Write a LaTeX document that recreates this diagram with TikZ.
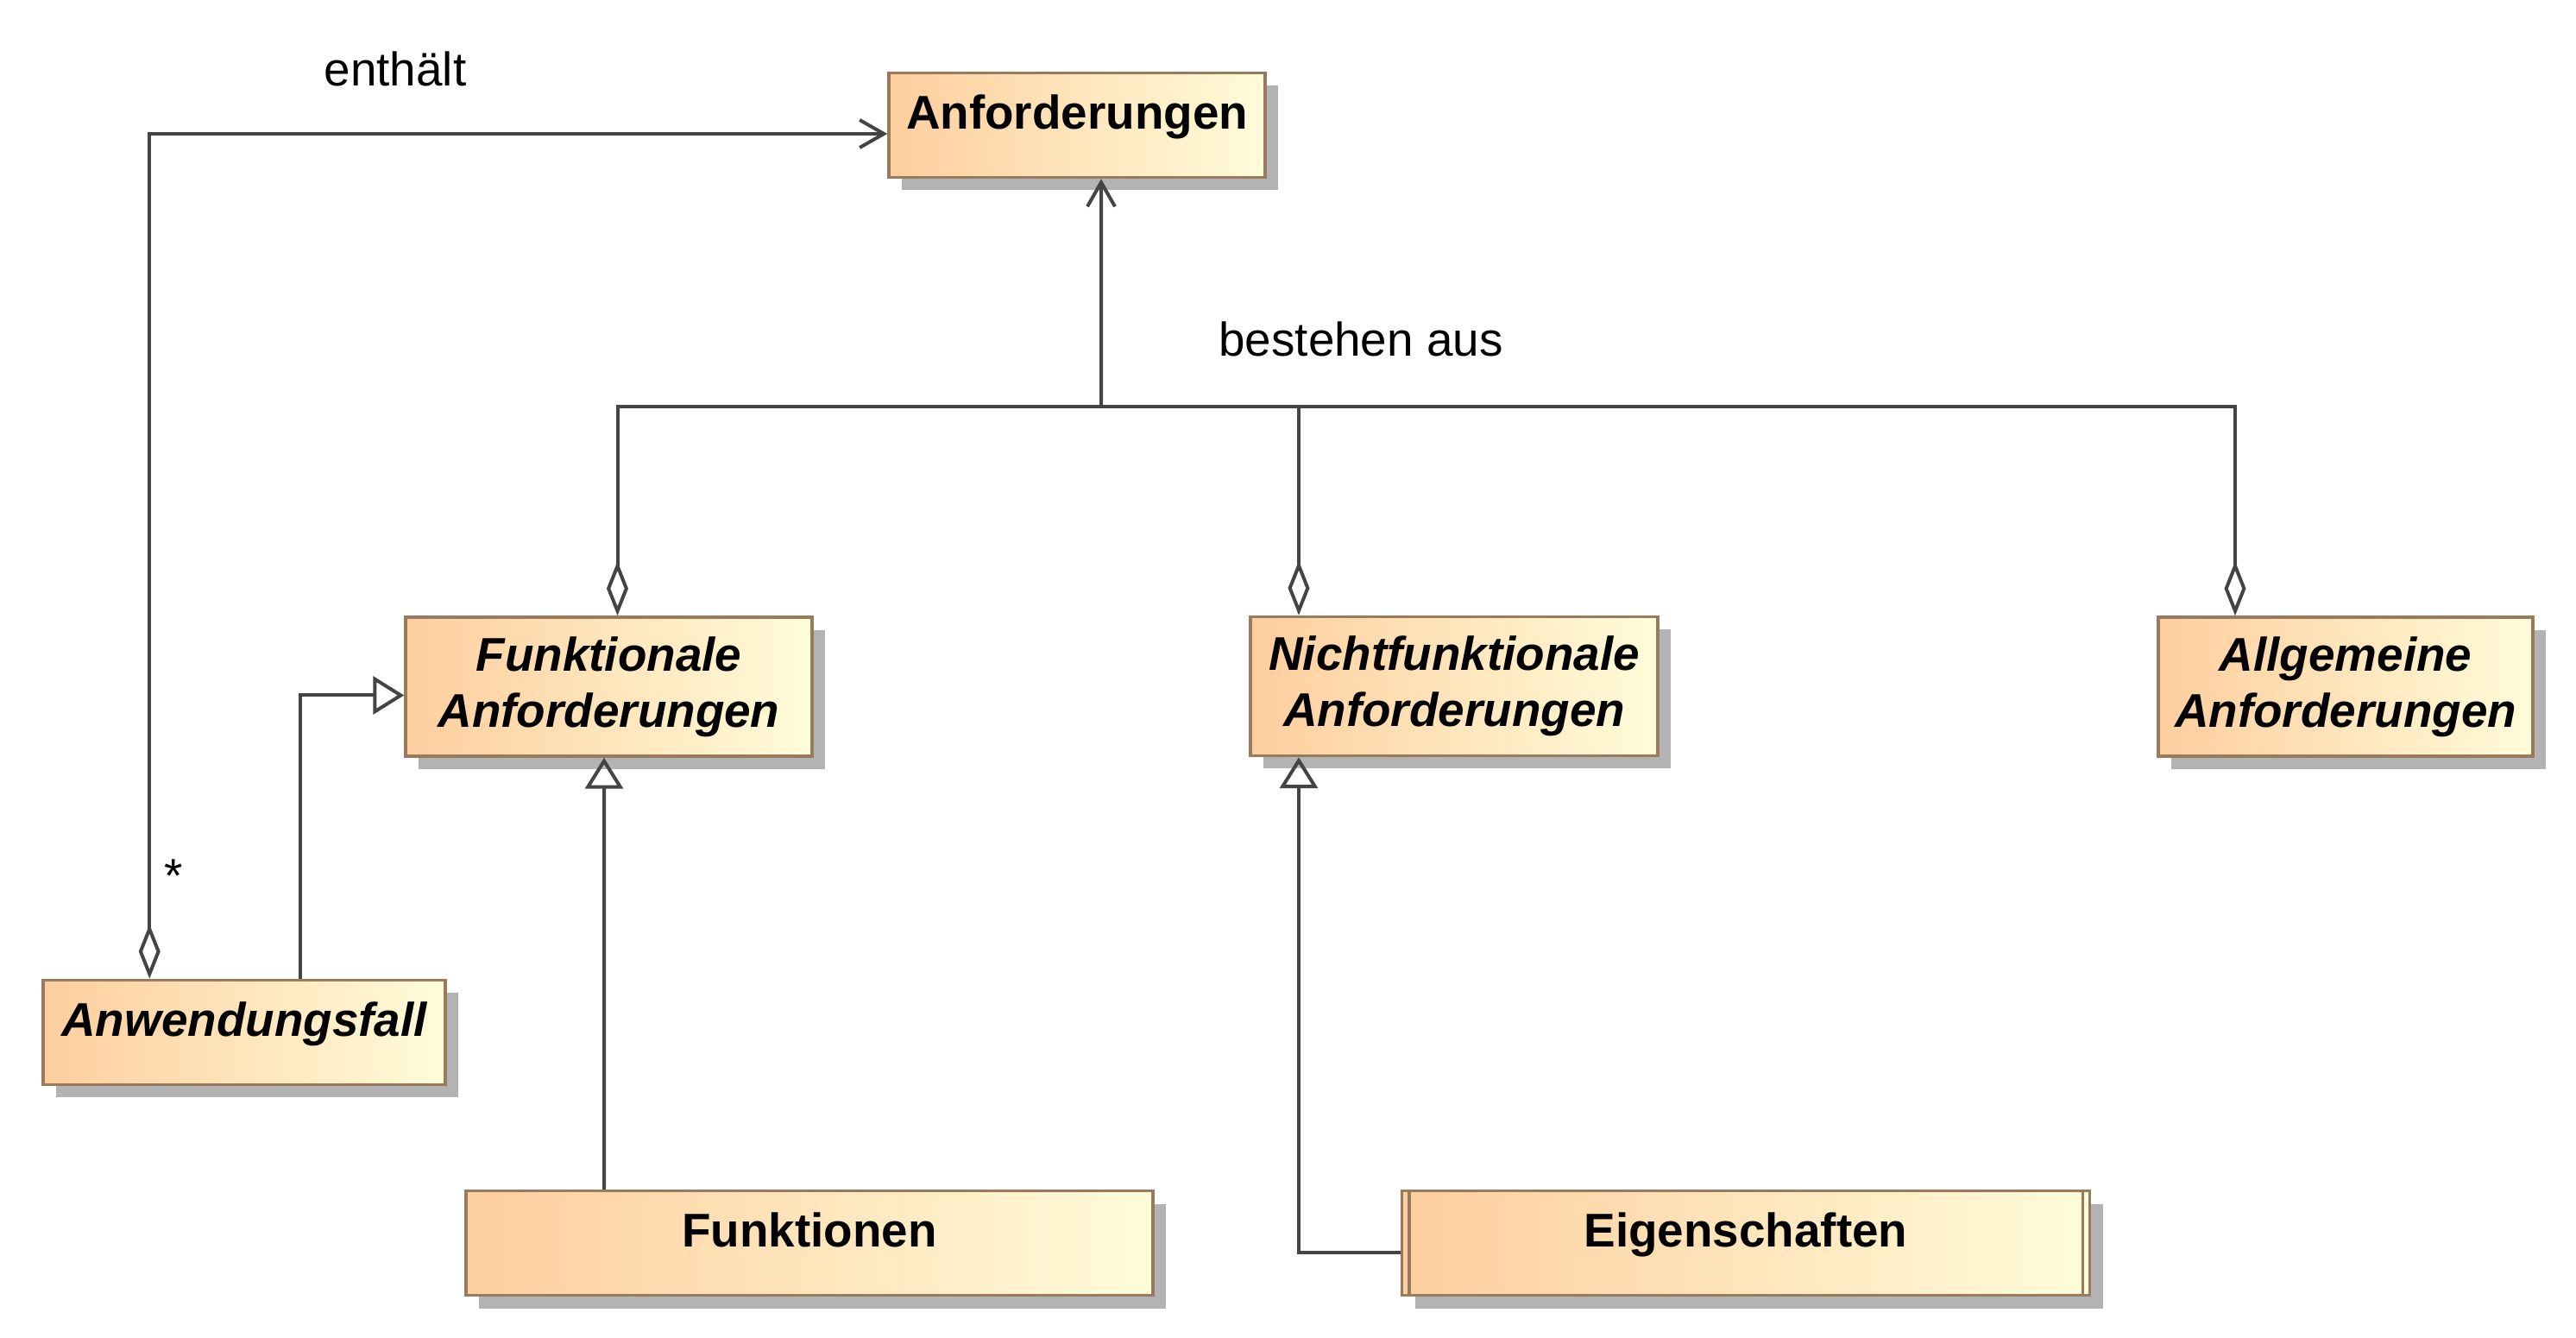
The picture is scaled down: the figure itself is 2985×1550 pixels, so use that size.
\documentclass[tikz,border=0pt]{standalone}
\usepackage{fontspec}
\setmainfont{Liberation Sans}
\usetikzlibrary{arrows.meta,shadows}

\definecolor{rahmen}{RGB}{152,122,92}
\definecolor{orangelinks}{RGB}{254,206,158}
\definecolor{gelbrechts}{RGB}{255,252,217}
\definecolor{schatten}{RGB}{179,179,179}
\definecolor{linie}{RGB}{68,68,68}

\begin{document}
\begin{tikzpicture}[x=0.1mm, y=-0.1mm, font=\fontsize{15.6}{18.5}\selectfont]
		\tikzstyle {class box} = [draw=rahmen, line width=0.35mm, left color=orangelinks, right color=gelbrechts, drop shadow={shadow xshift=1.5mm, shadow yshift=-1.5mm, fill=schatten, opacity=1}, inner xsep=0pt, inner ysep=0pt, align=center, font=\fontsize{15.6}{18.5}\selectfont\bfseries]
		\tikzstyle {one line} = [text height=6.5mm, text depth=5.6mm]
		\tikzstyle {two lines} = [minimum height=16.1mm]
		\tikzstyle {abstract} = [font=\fontsize{15.6}{18.5}\selectfont\bfseries\itshape]
		\tikzstyle {link line} = [draw=linie, line width=0.4mm]
		\tikzstyle {aggregation} = [link line, -{Diamond[open, length=6.3mm, width=2.5mm]}]
		\tikzstyle {generalization} = [link line, -{Triangle[open, length=3.6mm, width=4.4mm]}]

		\useasboundingbox (0,0) rectangle (2985,1550);

		\node[class box, one line, minimum width=43.6mm] (anf) at (1248,145) {Anforderungen};
		\node[class box, two lines, abstract, minimum width=47.1mm] (funk) at (705.5,795.5) {Funktionale\\Anforderungen};
		\node[class box, two lines, abstract, minimum width=47.2mm] (nfunk) at (1685,795) {Nichtfunktionale\\Anforderungen};
		\node[class box, two lines, abstract, minimum width=43.4mm] (allg) at (2718,795.5) {Allgemeine\\Anforderungen};
		\node[class box, one line, abstract, minimum width=46.6mm] (anw) at (283,1196) {Anwendungsfall};
		\node[class box, one line, minimum width=79.6mm] (fkt) at (938,1440) {Funktionen};
		\node[class box, one line, minimum width=79.7mm] (eig) at (2023,1440) {Eigenschaften};
		\draw[draw=rahmen, line width=0.35mm] ([xshift=1mm]eig.north west) -- ([xshift=1mm]eig.south west);
		\draw[draw=rahmen, line width=0.35mm] ([xshift=-1mm]eig.north east) -- ([xshift=-1mm]eig.south east);

		\draw[link line, {Diamond[open, length=6.3mm, width=2.5mm]}-{Straight Barb[length=2.8mm, width=3.2mm]}] ([xshift=12.5mm]anw.north west) |- ([yshift=-1mm]anf.west);
		\draw (458,100) node[anchor=base] (enthaelt) {enthält};
		\draw (201,1015) node[inner sep=0pt] (stern) {*};

		\draw[generalization] ([xshift=30mm]anw.north west) |- ([yshift=-1mm]funk.west);

		\coordinate (gabel) at (1276,471);
		\draw[link line, -{Straight Barb[length=2.8mm, width=3.2mm]}] (gabel) -- ([xshift=2.8mm]anf.south);
		\draw[aggregation] (gabel) -| ([xshift=1mm]funk.north);
		\draw[aggregation] (gabel) -| ([xshift=-18mm]nfunk.north);
		\draw[aggregation] (gabel) -| ([xshift=-12.8mm]allg.north);
		\draw (1577,413) node[anchor=base] (bestehen) {bestehen aus};

		\draw[generalization] ([xshift=-23.8mm]fkt.north) -- ([xshift=-0.55mm]funk.south);
		\draw[generalization] ([yshift=-1.05mm]eig.west) -| ([xshift=-18mm]nfunk.south);
\end{tikzpicture}
\end{document}
